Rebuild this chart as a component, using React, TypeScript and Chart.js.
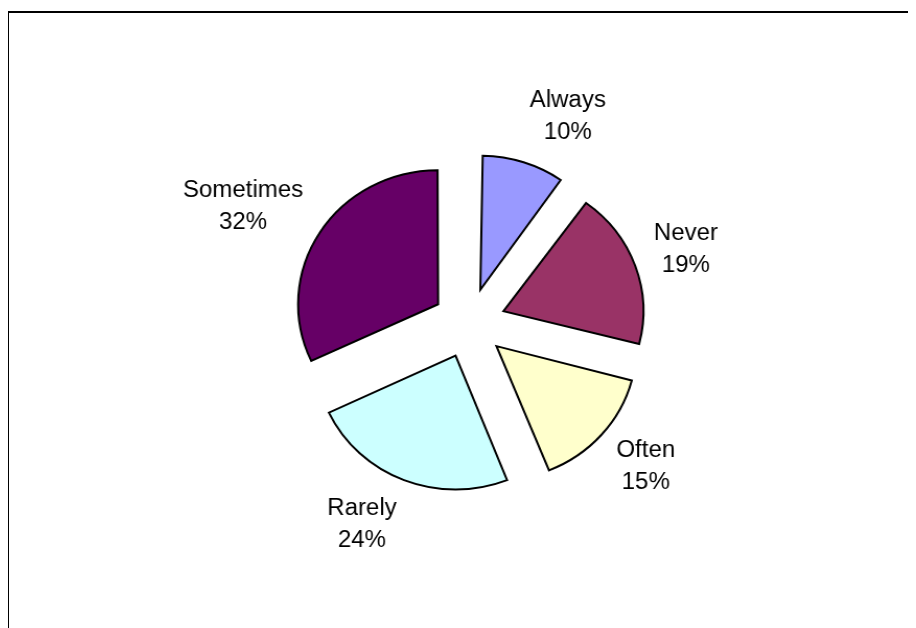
import React, { useEffect, useRef } from 'react';
import { Chart, registerables } from 'chart.js';

Chart.register(...registerables);

// ---- data ----
const categories = ['Always', 'Never', 'Often', 'Rarely', 'Sometimes'];
const shares = [10, 19, 15, 24, 32];
const sliceColors = ['#9999FF', '#993366', '#FFFFCC', '#CCFFFF', '#660066'];

// ---- layout / style ----
const STRETCH_X = 1.045;
const CANVAS_W = 868;
const CANVAS_H = 620;
const PIE_RADIUS = 134;
const EXPLODE = 35;
const FONT_PX = 23;
const LINE_H = 32;
const LABEL_GAP = 19;

const radiusFix = {
  id: 'radiusFix',
  beforeDatasetsDraw(chart: any) {
    const meta = chart.getDatasetMeta(0);
    const base = meta.controller.outerRadius;
    meta.data.forEach((arc: any) => {
      const off = (arc.options.offset || 0) / 4;
      const fix = 1 - Math.sin(Math.min(Math.PI, arc.circumference || 0));
      arc.outerRadius = base - off * fix;
    });
  },
};

const outsideLabels = {
  id: 'outsideLabels',
  afterDatasetsDraw(chart: any) {
    const ctx = chart.ctx;
    const meta = chart.getDatasetMeta(0);
    const R = meta.controller.outerRadius;
    ctx.save();
    ctx.font = `${FONT_PX}px "Liberation Sans", Arial, sans-serif`;
    ctx.fillStyle = '#000000';
    ctx.textAlign = 'center';
    ctx.textBaseline = 'middle';
    meta.data.forEach((arc: any, i: number) => {
      const mid = (arc.startAngle + arc.endAngle) / 2;
      const dx = Math.cos(mid);
      const dy = Math.sin(mid);
      const shift = (arc.options.offset || 0) / 4;
      const lines = [categories[i], `${shares[i]}%`];
      const hw = Math.max(...lines.map((l) => ctx.measureText(l).width)) / 2;
      const hh = LINE_H * 0.75;
      const dist = R + shift + LABEL_GAP;
      const cx = arc.x + dist * dx + hw * Math.sign(dx);
      const cy = arc.y + dist * dy + 1.2 * hh * dy;
      ctx.fillText(lines[0], cx, cy - LINE_H / 2);
      ctx.fillText(lines[1], cx, cy + LINE_H / 2);
    });
    ctx.restore();
  },
};

export default function App() {
  const canvasRef = useRef<HTMLCanvasElement | null>(null);

  useEffect(() => {
    document.body.style.overflow = 'hidden';
    const canvas = canvasRef.current;
    if (!canvas) return;
    const chart = new Chart(canvas, {
      type: 'pie',
      data: {
        labels: categories,
        datasets: [
          {
            data: shares,
            backgroundColor: sliceColors,
            borderColor: '#000000',
            borderWidth: 2,
            borderJoinStyle: 'miter',
            offset: EXPLODE * 4,
            radius: PIE_RADIUS,
          } as any,
        ],
      },
      options: {
        animation: false,
        responsive: false,
        devicePixelRatio: 1,
        layout: { padding: { left: 12.4, right: 0, top: 20, bottom: 20 } },
        plugins: {
          legend: { display: false },
          tooltip: { enabled: false },
        },
        events: [],
      } as any,
      plugins: [radiusFix, outsideLabels],
    });
    return () => chart.destroy();
  }, []);

  return (
    <div
      style={{
        marginTop: 3,
        marginLeft: -1,
        width: 907,
        height: CANVAS_H,
        borderLeft: '2px solid #000',
        borderTop: '2px solid #000',
        overflow: 'hidden',
        position: 'relative',
        background: '#fff',
      }}
    >
      <div
        style={{
          width: CANVAS_W,
          height: CANVAS_H,
          transform: `scaleX(${STRETCH_X})`,
          transformOrigin: '0 0',
        }}
      >
        <canvas ref={canvasRef} width={CANVAS_W} height={CANVAS_H} />
      </div>
    </div>
  );
}
